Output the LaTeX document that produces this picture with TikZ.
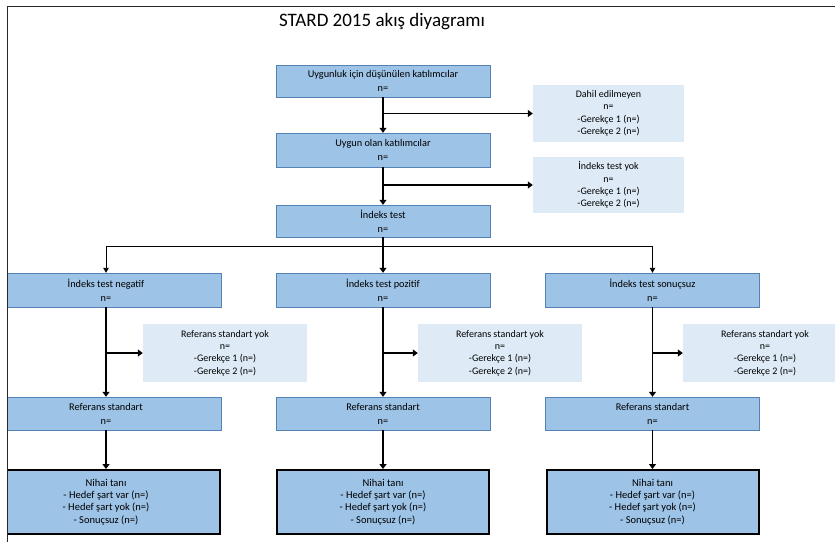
\documentclass[tikz,border=0pt]{standalone}
\usepackage{fontspec}
\setmainfont{Carlito}
\usetikzlibrary{arrows.meta}
\definecolor{StardBlue}{RGB}{157, 195, 230}
\definecolor{StardEdge}{RGB}{84, 130, 180}
\definecolor{StardLight}{RGB}{222, 235, 247}
\definecolor{StardFrame}{RGB}{40, 40, 40}

\tikzset{
  mainbox/.style={draw=StardEdge, fill=StardBlue, minimum width=214pt, minimum height=#1,
    align=center, inner sep=1pt, font=\fontsize{10.3}{14}\selectfont},
  finalbox/.style={draw=black, line width=2pt, fill=StardBlue, minimum width=212pt, minimum height=64pt,
    align=center, inner sep=1pt, font=\fontsize{10.5}{12.4}\selectfont},
  sidebox/.style={fill=StardLight, minimum width=#1, align=center, inner sep=1pt,
    font=\fontsize{10}{12.4}\selectfont},
  flow/.style={line width=1.7pt, -{Triangle[length=5pt, width=7pt]}},
  split/.style={line width=0.9pt, -{Triangle[length=5pt, width=5.5pt]}}
}

\begin{document}
\begin{tikzpicture}[x=1pt, y=-1pt]
  \path[use as bounding box] (0,0) rectangle (835,542);
  \clip (7,6) rectangle (835,542);

  % Title
  \node[font=\fontsize{19}{22}\selectfont] (title) at (382,22) {STARD 2015 akış diyagramı};

  % Enrolment
  \node[mainbox=32pt] (elig) at (383,81) {Uygunluk için düşünülen katılımcılar\\n=};
  \node[sidebox=151pt, minimum height=57pt] (excl) at (608.5,113.5) {Dahil edilmeyen\\n=\\-Gerekçe 1 (n=)\\-Gerekçe 2 (n=)};
  \node[mainbox=34pt] (eligok) at (383,150) {Uygun olan katılımcılar\\n=};
  \node[sidebox=151pt, minimum height=56pt] (noindex) at (608.5,185) {İndeks test yok\\n=\\-Gerekçe 1 (n=)\\-Gerekçe 2 (n=)};
  \node[mainbox=32pt] (index) at (383,221) {İndeks test\\n=};

  % Index test results
  \node[mainbox=34pt, minimum width=230pt] (neg) at (106,290) {İndeks test negatif\\n=};
  \node[mainbox=34pt] (pos) at (383,290) {İndeks test pozitif\\n=};
  \node[mainbox=34pt] (inc) at (652.5,290) {İndeks test sonuçsuz\\n=};

  % Missing reference standard
  \node[sidebox=164pt, minimum height=58pt] (norefneg) at (225,353) {Referans standart yok\\n=\\-Gerekçe 1 (n=)\\-Gerekçe 2 (n=)};
  \node[sidebox=164pt, minimum height=58pt] (norefpos) at (500,353) {Referans standart yok\\n=\\-Gerekçe 1 (n=)\\-Gerekçe 2 (n=)};
  \node[sidebox=164pt, minimum height=58pt] (norefinc) at (765,353) {Referans standart yok\\n=\\-Gerekçe 1 (n=)\\-Gerekçe 2 (n=)};

  % Reference standard
  \node[mainbox=33pt, minimum width=230pt] (refneg) at (106,413.5) {Referans standart\\n=};
  \node[mainbox=33pt] (refpos) at (383,413.5) {Referans standart\\n=};
  \node[mainbox=33pt] (refinc) at (652.5,413.5) {Referans standart\\n=};

  % Final diagnosis
  \node[finalbox, minimum width=228pt] (finneg) at (106,502) {Nihai tanı\\- Hedef şart var (n=)\\- Hedef şart yok (n=)\\- Sonuçsuz (n=)};
  \node[finalbox] (finpos) at (383,502) {Nihai tanı\\- Hedef şart var (n=)\\- Hedef şart yok (n=)\\- Sonuçsuz (n=)};
  \node[finalbox] (fininc) at (652.5,502) {Nihai tanı\\- Hedef şart var (n=)\\- Hedef şart yok (n=)\\- Sonuçsuz (n=)};

  \coordinate (fork) at (383,246);

  % Arrows
  \draw[flow] (elig) -- (eligok);
  \draw[flow] (excl.west -| elig.south) -- (excl.west);
  \draw[flow] (eligok) -- (index);
  \draw[flow] (noindex.west -| eligok.south) -- (noindex.west);
  \draw[flow] (index) -- (pos);
  \draw[split] (fork) -| (neg.north);
  \draw[split] (fork) -| (inc.north);

  \draw[flow] (neg) -- (refneg);
  \draw[flow] (norefneg.west -| neg.south) -- (norefneg.west);
  \draw[flow] (refneg) -- (finneg);

  \draw[flow] (pos) -- (refpos);
  \draw[flow] (norefpos.west -| pos.south) -- (norefpos.west);
  \draw[flow] (refpos) -- (finpos);

  \draw[flow] (inc) -- (refinc);
  \draw[flow] (norefinc.west -| inc.south) -- (norefinc.west);
  \draw[flow] (refinc) -- (fininc);

  % Frame
  \draw[StardFrame, line width=1.2pt] (7,542) -- (7,6) -- (835,6);
\end{tikzpicture}
\end{document}
